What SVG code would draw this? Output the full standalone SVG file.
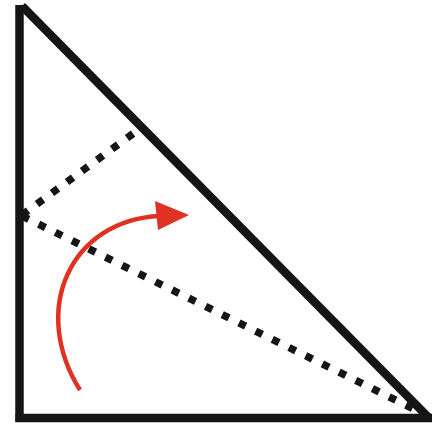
<svg xmlns="http://www.w3.org/2000/svg" width="438" height="425" viewBox="0 0 438 425">
  <style>
    .edge { stroke: #151515; stroke-width: 8.5; fill: none; }
    .dots { stroke: #151515; stroke-width: 7.5; stroke-dasharray: 7.5 11.1; fill: none; }
    .arc { stroke: #e03222; stroke-width: 4.5; fill: none; }
    .head { fill: #e03222; }
  </style>
  <rect width="438" height="425" fill="#ffffff"/>
  <g id="triangle">
    <line class="edge" x1="19.5" y1="5" x2="19.5" y2="422"/>
    <line class="edge" x1="15.5" y1="418" x2="432" y2="418"/>
    <line class="edge" x1="22" y1="6" x2="429" y2="418"/>
  </g>
  <g id="connectors">
    <line class="dots" x1="22" y1="215" x2="138" y2="130"/>
    <line class="dots" x1="22" y1="216" x2="424" y2="414"/>
    <path class="arc" d="M80,390 C30,310 70,220 160,216"/>
    <polygon class="head" points="189,215 155,201 158,230"/>
  </g>
</svg>
